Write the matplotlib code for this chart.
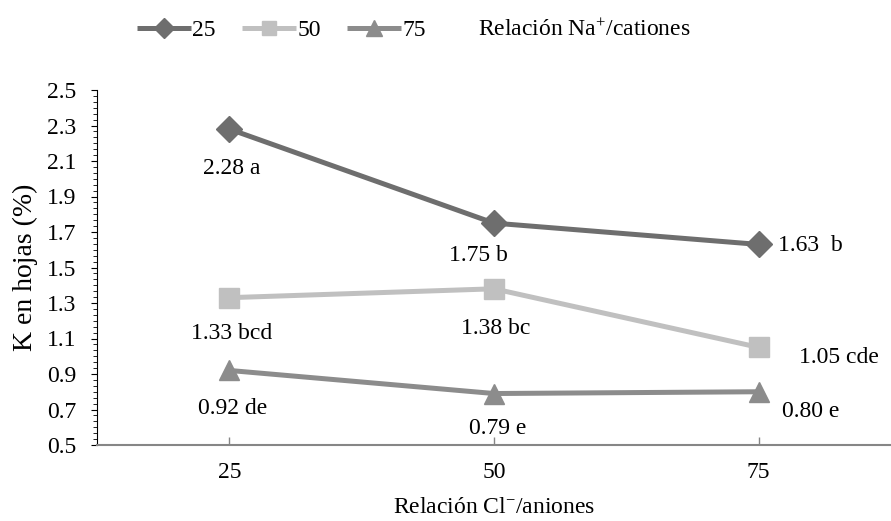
import matplotlib
matplotlib.use("Agg")
import matplotlib.pyplot as plt
from matplotlib.ticker import AutoMinorLocator

# =========================
# DATOS
# =========================
cloruro = ["25", "50", "75"]
series = ["25", "50", "75"]
k_25 = [2.28, 1.75, 1.63]
k_50 = [1.33, 1.38, 1.05]
k_75 = [0.92, 0.79, 0.80]
etiquetas_25 = ["2.28 a", "1.75 b", "1.63  b"]
etiquetas_50 = ["1.33 bcd", "1.38 bc", "1.05 cde"]
etiquetas_75 = ["0.92 de", "0.79 e", "0.80 e"]
y_ticks = [0.5, 0.7, 0.9, 1.1, 1.3, 1.5, 1.7, 1.9, 2.1, 2.3, 2.5]

# =========================
# ESTILO
# =========================
plt.rcParams["font.family"] = ["Liberation Serif", "DejaVu Serif"]
plt.rcParams["mathtext.fontset"] = "custom"
plt.rcParams["mathtext.rm"] = "Liberation Serif"
plt.rcParams["mathtext.it"] = "Liberation Serif:italic"

colores = ["#6e6e6e", "#c0c0c0", "#8c8c8c"]
marcadores = ["D", "s", "^"]
tam_marcador = [13, 14, 15]
# desplazamientos de etiquetas (pixeles)
desp = [
    [(2, -39), (-16, -32), (52, -1)],
    [(2, -36), (2, -40), (80, -10)],
    [(3, -38), (4, -35), (52, -20)],
]

fig = plt.figure(figsize=(8.91, 5.21), dpi=100)
ax = fig.add_axes([97 / 891, 1 - 445 / 521, 1 - 97 / 891, (445 - 90) / 521])

x = list(range(1, len(cloruro) + 1))
datos = [k_25, k_50, k_75]
etiquetas = [etiquetas_25, etiquetas_50, etiquetas_75]

for i, (vals, nombre) in enumerate(zip(datos, series)):
    ax.plot(x, vals, color=colores[i], lw=3.6, marker=marcadores[i],
            ms=tam_marcador[i], label=nombre, solid_capstyle="butt")
    for j, v in enumerate(vals):
        ax.annotate(etiquetas[i][j], xy=(x[j], v), xytext=desp[i][j],
                    textcoords="offset pixels", ha="center", va="center",
                    fontsize=17)

ax.set_xlim(0.5, 3.5)
ax.set_ylim(0.5, 2.5)
ax.set_xticks(x)
ax.set_xticklabels(cloruro, fontsize=17)
ax.set_yticks(y_ticks)
ax.set_yticklabels([f"{v:.1f}" for v in y_ticks], fontsize=17)
ax.yaxis.set_minor_locator(AutoMinorLocator(6))

ax.spines["top"].set_visible(False)
ax.spines["right"].set_visible(False)
ax.spines["left"].set_color("black")
ax.spines["left"].set_linewidth(0.8)
ax.spines["bottom"].set_color("#868686")
ax.spines["bottom"].set_linewidth(1.5)

ax.tick_params(axis="y", which="major", direction="out", length=4, width=0.8, pad=11)
ax.tick_params(axis="y", which="minor", direction="out", length=3, width=0.6)
ax.tick_params(axis="x", which="major", direction="in", length=6, width=1,
               color="#868686", pad=12)

ax.set_ylabel("K en hojas (%)", fontsize=20, labelpad=6)
ax.set_xlabel("Relación Cl$^{-}$/aniones", fontsize=17, labelpad=10)

fig.legend(loc="center left", bbox_to_anchor=(125 / 891, 1 - 30 / 521), ncol=3,
           frameon=False, fontsize=17, handlelength=2.3, handletextpad=0.05,
           columnspacing=1.1, borderpad=0, markerscale=0.75)
fig.text(478 / 891, 1 - 30 / 521, "Relación Na$^{+}$/cationes", fontsize=17,
         ha="left", va="center")

fig.savefig("out.png", dpi=100)
